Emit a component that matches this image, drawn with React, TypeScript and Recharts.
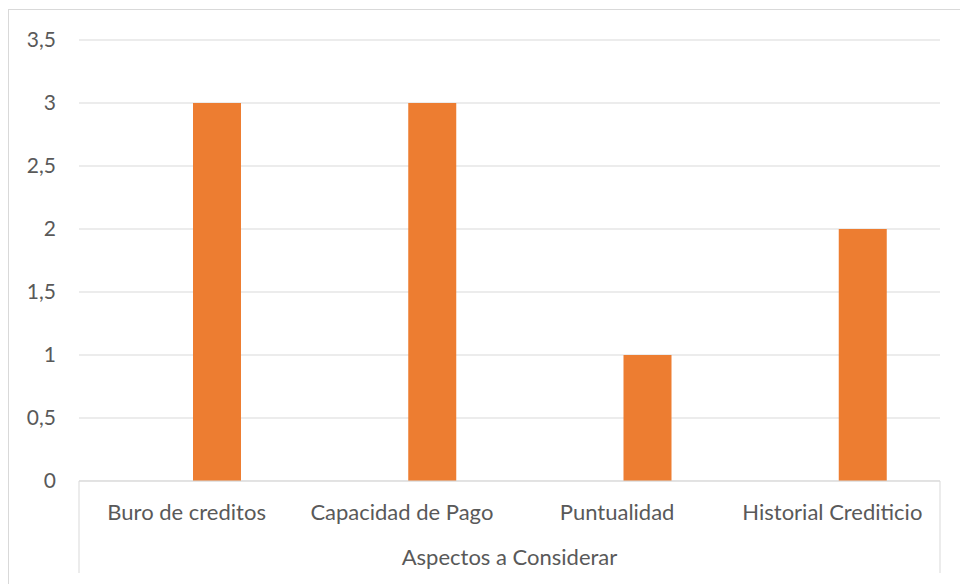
import React from 'react'
import { BarChart, Bar, XAxis, YAxis, CartesianGrid } from 'recharts'

const categories = ['Buro de creditos', 'Capacidad de Pago', 'Puntualidad', 'Historial Crediticio']
const valores = [3, 3, 1, 2]
// first column of the sheet is empty, it still takes its slot in each group
const vacios: (number | null)[] = [null, null, null, null]
const yTicks = [0, 0.5, 1, 1.5, 2, 2.5, 3, 3.5]
const groupTitle = 'Aspectos a Considerar'

const data = categories.map((c, i) => ({ aspecto: c, vacio: vacios[i], valor: valores[i] }))

const FONT = 'Lato, "Open Sans", sans-serif'
const TEXT = '#595959'
const LINE = '#d9d9d9'

// second level of the category axis: outer separators + group caption
function GroupLabel(props: any) {
  const vb = props.viewBox
  if (!vb) return null
  const { x, y, width, height } = vb
  return (
    <g>
      <line x1={x} x2={x} y1={y} y2={y + height} stroke={LINE} strokeWidth={1} />
      <line x1={x + width} x2={x + width} y1={y} y2={y + height} stroke={LINE} strokeWidth={1} />
      <text
        x={x + width / 2}
        y={y + 84}
        textAnchor='middle'
        fill={TEXT}
        fontSize={22}
        fontFamily={FONT}
      >
        {groupTitle}
      </text>
    </g>
  )
}

export default function App() {
  return (
    <div style={{ position: 'absolute', left: 0, top: 0, width: 960, height: 584, overflow: 'hidden', background: '#fff' }}>
      <div
        style={{
          position: 'absolute',
          left: 8,
          top: 9,
          width: 1000,
          height: 640,
          border: `1px solid ${LINE}`,
        }}
      />
      <div style={{ position: 'absolute', left: 0, top: 0 }}>
        <BarChart
          width={960}
          height={584}
          data={data}
          margin={{ top: 40, right: 20, bottom: 11, left: 0 }}
          barGap={13}
          barSize={48}
        >
          <CartesianGrid vertical={false} stroke={LINE} strokeWidth={1} />
          <YAxis
            width={79}
            domain={[0, 3.5]}
            ticks={yTicks}
            interval={0}
            axisLine={false}
            tickLine={false}
            tickMargin={17}
            tickFormatter={(v: number) => String(v).replace('.', ',')}
            tick={{ fill: TEXT, fontSize: 21, fontFamily: FONT }}
          />
          <XAxis
            dataKey='aspecto'
            height={92}
            interval={0}
            tickLine={false}
            axisLine={{ stroke: LINE, strokeWidth: 1 }}
            tickMargin={17}
            tick={{ fill: TEXT, fontSize: 22, fontFamily: FONT }}
            label={{ content: (p: any) => <GroupLabel {...p} /> }}
          />
          <Bar dataKey='vacio' fill='#4472C4' isAnimationActive={false} />
          <Bar dataKey='valor' fill='#ED7D31' isAnimationActive={false} />
        </BarChart>
      </div>
    </div>
  )
}
